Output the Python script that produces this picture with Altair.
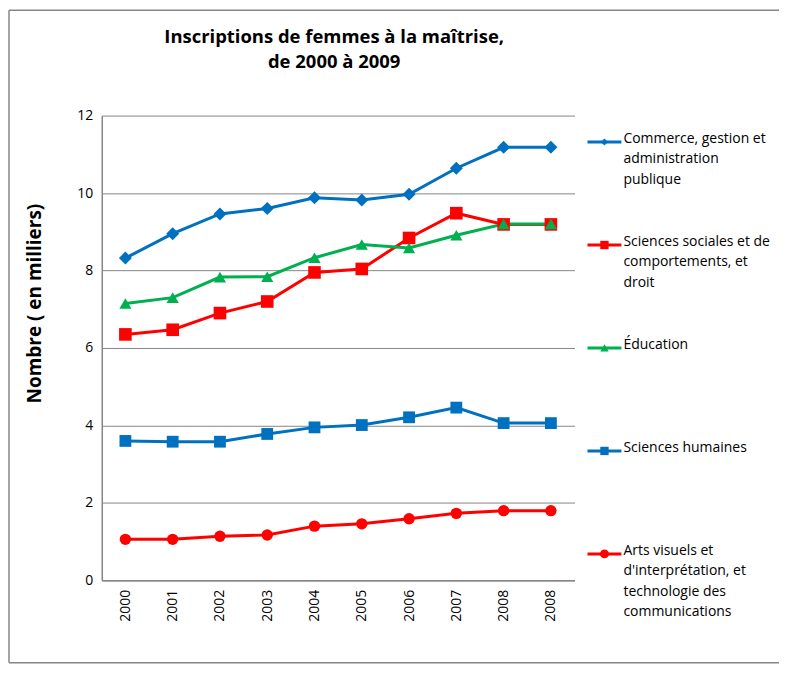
import json
import altair as alt
import pandas as pd

# ---- data ----
years = ["2000", "2001", "2002", "2003", "2004", "2005", "2006", "2007", "2008", "2008"]
series = [
    "Commerce, gestion et administration publique",
    "Sciences sociales et de comportements, et droit",
    "Éducation",
    "Sciences humaines",
    "Arts visuels et d'interprétation, et technologie des communications",
]
legend_text = [
    "Commerce, gestion et|administration|publique",
    "Sciences sociales et de|comportements, et|droit",
    "Éducation",
    "Sciences humaines",
    "Arts visuels et|d'interprétation, et|technologie des|communications",
]
title_lines = ["Inscriptions de femmes à la maîtrise,", "de 2000 à 2009"]
commerce = [8.32, 8.95, 9.46, 9.60, 9.88, 9.82, 9.97, 10.64, 11.18, 11.18]
sociales = [6.35, 6.47, 6.90, 7.20, 7.95, 8.04, 8.84, 9.48, 9.19, 9.19]
education = [7.15, 7.30, 7.83, 7.84, 8.33, 8.67, 8.58, 8.91, 9.20, 9.20]
humaines = [3.60, 3.58, 3.58, 3.78, 3.95, 4.01, 4.21, 4.46, 4.06, 4.06]
arts = [1.06, 1.06, 1.14, 1.17, 1.40, 1.46, 1.59, 1.73, 1.80, 1.80]

# ---- styles ----
colors = ["#0070C0", "#FF0000", "#00B050", "#0070C0", "#FF0000"]
shapes = ["diamond", "square", "triangle-up", "square", "circle"]
sizes = [170, 130, 160, 130, 170]
legend_sizes = [50, 70, 70, 70, 80]
FONT = "Open Sans"
GRAY = "#868686"

values_by_series = [commerce, sociales, education, humaines, arts]
rows = []
for s, vals in zip(series, values_by_series):
    for i, v in enumerate(vals):
        rows.append({"pos": i, "series": s, "value": v})
df = pd.DataFrame(rows)
legend_df = pd.DataFrame({"series": series, "label": legend_text, "lsize": legend_sizes})

color_scale = alt.Scale(domain=series, range=colors)
shape_scale = alt.Scale(domain=series, range=shapes)

base = alt.Chart(df).encode(
    x=alt.X(
        "pos:O",
        scale=alt.Scale(type="point", padding=0.5),
        axis=alt.Axis(
            title=None,
            labelExpr=json.dumps(years) + "[datum.value]",
            labelAngle=-90,
            labelFontSize=14,
            labelColor="#000000",
            labelPadding=9,
            ticks=False,
            domainColor=GRAY,
            domainWidth=1.5,
            grid=False,
        ),
    ),
    y=alt.Y(
        "value:Q",
        scale=alt.Scale(domain=[0, 12], nice=False),
        axis=alt.Axis(
            title="Nombre ( en milliers)",
            titleFontSize=19,
            titleFontWeight="bold",
            titleColor="#000000",
            titleX=-57,
            titleY=188,
            values=[0, 2, 4, 6, 8, 10, 12],
            labelFontSize=14,
            labelColor="#000000",
            labelPadding=9,
            ticks=False,
            domainColor=GRAY,
            domainWidth=1.5,
            gridColor=GRAY,
            gridWidth=1,
        ),
    ),
    color=alt.Color("series:N", scale=color_scale, legend=None),
)

lines = base.mark_line(strokeWidth=3)
points = base.mark_point(filled=True, opacity=1).encode(
    shape=alt.Shape("series:N", scale=shape_scale, legend=None),
    size=alt.Size("series:N", scale=alt.Scale(domain=series, range=sizes), legend=None),
)

# decoration: outer frame and chart title
deco = alt.Chart(pd.DataFrame({"k": [0]}))
frame_top = deco.mark_rule(color=GRAY, strokeWidth=1.5).encode(
    x=alt.value(-93), x2=alt.value(679), y=alt.value(-105.5)
)
frame_left = deco.mark_rule(color=GRAY, strokeWidth=1.5).encode(
    x=alt.value(-93), y=alt.value(-105.5), y2=alt.value(548.5)
)
frame_bottom = deco.mark_rule(color=GRAY, strokeWidth=1.5).encode(
    x=alt.value(-93), x2=alt.value(679), y=alt.value(548.5)
)
title1 = deco.mark_text(
    fontSize=18.5, fontWeight="bold", align="center", baseline="middle", color="#000000"
).encode(x=alt.value(233), y=alt.value(-79), text=alt.value(title_lines[0]))
title2 = deco.mark_text(
    fontSize=18.5, fontWeight="bold", align="center", baseline="middle", color="#000000"
).encode(x=alt.value(233), y=alt.value(-54), text=alt.value(title_lines[1]))

plot = alt.layer(frame_top, frame_left, frame_bottom, title1, title2, lines, points).properties(
    width=474,
    height=466,
)

leg = alt.Chart(legend_df).encode(
    y=alt.Y("series:N", scale=alt.Scale(type="point", domain=series, padding=0.257), axis=None),
    color=alt.Color("series:N", scale=color_scale, legend=None),
)
leg_rule = leg.mark_rule(strokeWidth=3).encode(x=alt.value(0), x2=alt.value(34))
leg_pts = leg.mark_point(filled=True, opacity=1).encode(
    x=alt.value(17),
    shape=alt.Shape("series:N", scale=shape_scale, legend=None),
    size=alt.Size("lsize:Q", scale=None, legend=None),
)
leg_txt = leg.mark_text(
    align="left", baseline="top", dy=-10, fontSize=14, lineBreak="|", lineHeight=20.5, color="#000000"
).encode(x=alt.value(36), text="label:N", color=alt.value("#000000"))
legend_panel = alt.layer(leg_rule, leg_pts, leg_txt).properties(width=170, height=466)

chart = (
    alt.hconcat(plot, legend_panel, spacing=13, bounds="flush")
    .resolve_scale(x="independent", y="independent", size="independent")
    .properties(padding={"left": 0, "top": 0, "right": 0, "bottom": 0})
    .configure(font=FONT)
    .configure_view(stroke=None)
)

chart.save("out.html", embed_options={"renderer": "svg", "actions": False})
